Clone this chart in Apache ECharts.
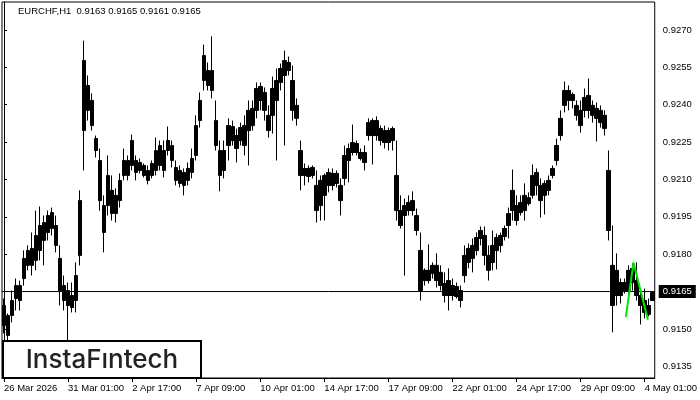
<!DOCTYPE html>
<html><head><meta charset="utf-8">
<script src="https://cdn.jsdelivr.net/npm/echarts@6/dist/echarts.min.js"></script>
<style>html,body{margin:0;padding:0;background:#fff}#c{width:700px;height:400px}</style>
</head><body><div id="c"></div>
<script>
const titleText = 'EURCHF,H1  0.9163 0.9165 0.9161 0.9165';
const tickLabels = ['26 Mar 2026','31 Mar 01:00','2 Apr 17:00','7 Apr 09:00','10 Apr 01:00','14 Apr 17:00','17 Apr 09:00','22 Apr 01:00','24 Apr 17:00','29 Apr 09:00','4 May 01:00'];
const yTicks = [0.9135,0.9150,0.9165,0.9180,0.9195,0.9210,0.9225,0.9240,0.9255,0.9270];
const lastPrice = 0.9165;

// 4-hour groups of the H1 chart: body range (bodyLow..bodyHigh) and extremes (lows..highs)
const bodyLow = [0.91514,0.91474,0.91554,0.91622,0.91614,0.91702,0.91755,0.91755,0.91775,0.91815,
0.91855,0.91887,0.91903,0.91835,0.91654,0.91614,0.91594,0.91586,0.91614,0.91795,
0.92296,0.92377,0.92316,0.92216,0.92015,0.91887,0.91995,0.91963,0.91963,0.92015,
0.92116,0.92116,0.92156,0.92128,0.92136,0.92116,0.92096,0.92116,0.92136,0.92156,
0.92136,0.92216,0.92176,0.92096,0.92084,0.92076,0.92096,0.92128,0.92196,0.92336,
0.92497,0.92477,0.92457,0.92236,0.92116,0.92136,0.92236,0.92256,0.92224,0.92256,
0.92236,0.92296,0.92316,0.92377,0.92417,0.92377,0.92296,0.92357,0.92417,0.92489,
0.92517,0.92537,0.92377,0.92345,0.92116,0.92116,0.92112,0.92116,0.91975,0.91995,
0.92036,0.92076,0.92076,0.92084,0.92015,0.92104,0.92176,0.92208,0.92208,0.92184,
0.92168,0.92276,0.92276,0.92276,0.92256,0.92248,0.92248,0.92256,0.91975,0.91915,
0.91955,0.91975,0.91975,0.91895,0.91654,0.91694,0.91694,0.91723,0.91694,0.91674,
0.91634,0.91634,0.91634,0.91630,0.91614,0.91714,0.91767,0.91783,0.91815,0.91863,
0.91795,0.91735,0.91767,0.91815,0.91835,0.91871,0.91915,0.91975,0.91935,0.91967,
0.91975,0.92003,0.92036,0.92076,0.92015,0.92036,0.92056,0.92116,0.92176,0.92276,
0.92397,0.92417,0.92417,0.92357,0.92316,0.92377,0.92377,0.92357,0.92345,0.92328,
0.92304,0.91895,0.91594,0.91634,0.91634,0.91654,0.91654,0.91686,0.91634,0.91594,
0.91566,0.91558,0.91614];
const bodyHigh = [0.91594,0.91554,0.91614,0.91674,0.91674,0.91783,0.91815,0.91823,0.91875,0.91915,
0.91927,0.91955,0.91967,0.91915,0.91783,0.91674,0.91654,0.91634,0.91714,0.92015,
0.92577,0.92477,0.92417,0.92264,0.92176,0.91995,0.92116,0.92056,0.92036,0.92096,
0.92176,0.92176,0.92256,0.92176,0.92168,0.92156,0.92136,0.92164,0.92216,0.92236,
0.92216,0.92256,0.92236,0.92148,0.92136,0.92128,0.92144,0.92184,0.92316,0.92417,
0.92597,0.92537,0.92537,0.92336,0.92216,0.92216,0.92316,0.92312,0.92276,0.92308,
0.92316,0.92377,0.92385,0.92465,0.92473,0.92449,0.92357,0.92465,0.92497,0.92545,
0.92577,0.92569,0.92497,0.92397,0.92216,0.92144,0.92144,0.92148,0.92076,0.92096,
0.92116,0.92128,0.92124,0.92124,0.92076,0.92196,0.92224,0.92248,0.92244,0.92208,
0.92208,0.92328,0.92336,0.92336,0.92304,0.92296,0.92296,0.92304,0.92116,0.91975,
0.91995,0.92007,0.92015,0.91955,0.91815,0.91735,0.91735,0.91755,0.91755,0.91727,
0.91682,0.91694,0.91674,0.91670,0.91654,0.91795,0.91823,0.91835,0.91867,0.91895,
0.91875,0.91795,0.91835,0.91867,0.91875,0.91903,0.91963,0.92056,0.91995,0.92007,
0.92036,0.92027,0.92116,0.92128,0.92076,0.92084,0.92096,0.92144,0.92236,0.92345,
0.92457,0.92457,0.92441,0.92397,0.92377,0.92429,0.92437,0.92397,0.92385,0.92377,
0.92357,0.92136,0.91755,0.91735,0.91686,0.91686,0.91735,0.91743,0.91694,0.91634,
0.91614,0.91594,0.91646];
const lows = [0.91482,0.91454,0.91526,0.91574,0.91574,0.91674,0.91735,0.91714,0.91735,0.91775,
0.91755,0.91855,0.91875,0.91807,0.91594,0.91574,0.91454,0.91566,0.91566,0.91755,
0.92136,0.92336,0.92296,0.92188,0.91975,0.91807,0.91955,0.91935,0.91927,0.91987,
0.92096,0.92096,0.92136,0.92096,0.92124,0.92108,0.92080,0.92104,0.92116,0.92136,
0.92108,0.92196,0.92148,0.92076,0.92068,0.92036,0.92076,0.92104,0.92176,0.92308,
0.92457,0.92457,0.92425,0.92216,0.92052,0.92104,0.92176,0.92236,0.92168,0.92236,
0.92196,0.92156,0.92296,0.92345,0.92377,0.92336,0.92268,0.92284,0.92176,0.92457,
0.92236,0.92517,0.92336,0.92316,0.92056,0.92076,0.92088,0.92104,0.91927,0.91935,
0.91935,0.92048,0.92056,0.92068,0.91955,0.92076,0.92088,0.92196,0.92196,0.92176,
0.92136,0.92256,0.92160,0.92256,0.92236,0.92224,0.92216,0.92216,0.91935,0.91903,
0.91714,0.91955,0.91955,0.91875,0.91614,0.91674,0.91682,0.91702,0.91666,0.91654,
0.91606,0.91574,0.91614,0.91622,0.91586,0.91686,0.91743,0.91727,0.91795,0.91835,
0.91755,0.91694,0.91735,0.91739,0.91807,0.91855,0.91863,0.91935,0.91915,0.91955,
0.91935,0.91995,0.92023,0.92036,0.91947,0.91959,0.92036,0.92104,0.92156,0.92256,
0.92369,0.92377,0.92385,0.92336,0.92288,0.92349,0.92345,0.92328,0.92252,0.92308,
0.92276,0.91855,0.91486,0.91594,0.91602,0.91642,0.91622,0.91654,0.91614,0.91518,
0.91542,0.91550,0.91614];
const highs = [0.91622,0.91562,0.91654,0.91702,0.91694,0.91815,0.91835,0.91887,0.91975,0.91991,
0.91955,0.91975,0.91987,0.91955,0.91835,0.91714,0.91686,0.91686,0.91767,0.92056,
0.92657,0.92517,0.92445,0.92276,0.92224,0.92036,0.92196,0.92116,0.92064,0.92124,
0.92224,0.92196,0.92280,0.92196,0.92184,0.92164,0.92156,0.92176,0.92268,0.92256,
0.92256,0.92312,0.92256,0.92176,0.92156,0.92144,0.92168,0.92224,0.92357,0.92449,
0.92641,0.92569,0.92674,0.92417,0.92256,0.92256,0.92345,0.92336,0.92304,0.92328,
0.92357,0.92417,0.92417,0.92489,0.92489,0.92469,0.92397,0.92513,0.92545,0.92565,
0.92617,0.92593,0.92557,0.92425,0.92256,0.92164,0.92156,0.92156,0.92136,0.92116,
0.92124,0.92144,0.92144,0.92136,0.92104,0.92236,0.92244,0.92320,0.92256,0.92224,
0.92236,0.92345,0.92345,0.92353,0.92316,0.92316,0.92308,0.92312,0.92256,0.92036,
0.92023,0.92036,0.92052,0.91983,0.91887,0.91743,0.91839,0.91767,0.91803,0.91755,
0.91727,0.91743,0.91702,0.91686,0.91674,0.91835,0.91843,0.91863,0.91887,0.91911,
0.91911,0.91835,0.91895,0.91883,0.91887,0.91915,0.91987,0.92140,0.92036,0.92036,
0.92084,0.92048,0.92160,0.92144,0.92104,0.92096,0.92116,0.92156,0.92264,0.92377,
0.92493,0.92477,0.92449,0.92417,0.92417,0.92465,0.92505,0.92417,0.92409,0.92397,
0.92377,0.92216,0.91915,0.91803,0.91702,0.91702,0.91755,0.91763,0.91767,0.91654,
0.91662,0.91622,0.91650];

// green pattern line (x in bar-group units)
const patternX = [155.3,155.7,157.2,157.6,160.8];
const patternY = [0.91548,0.91548,0.91767,0.91767,0.91537];

// categories: 4-hour steps from 26 Mar 2026 09:00, weekends skipped
const categories = [];
{
  let t = Date.UTC(2026,2,26,9);
  const mon = ['Jan','Feb','Mar','Apr','May','Jun','Jul','Aug','Sep','Oct','Nov','Dec'];
  for (let i = 0; i < highs.length; i++) {
    let d = new Date(t);
    while (d.getUTCDay() === 0 || d.getUTCDay() === 6) { t += 48*3600e3; d = new Date(t); }
    categories.push(d.getUTCDate() + ' ' + mon[d.getUTCMonth()] + ' ' + String(d.getUTCHours()).padStart(2,'0') + ':00');
    t += 4*3600e3;
  }
}

const ohlc = highs.map((h, i) => [bodyLow[i], bodyHigh[i], lows[i], highs[i]]);
const pattern = patternX.map((x, i) => [x, patternY[i]]);
const priceLine = [[-0.5, lastPrice], [highs.length - 0.5, lastPrice]];
const FONT = 'Liberation Sans, Arial, sans-serif';
const every16 = (i) => i % 16 === 0;

const chart = echarts.init(document.getElementById('c'), null, {renderer: 'canvas'});
chart.setOption({
  animation: false,
  backgroundColor: '#fff',
  grid: {left: 2, right: 44, top: 2, bottom: 22, show: true, borderColor: '#000', borderWidth: 1, backgroundColor: 'transparent'},
  xAxis: [{
    type: 'category', data: categories, boundaryGap: true,
    axisLine: {show: true, lineStyle: {color: '#000', width: 1}},
    axisTick: {show: true, interval: every16, alignWithLabel: true, length: 4, lineStyle: {color: '#000'}},
    axisLabel: {interval: every16, formatter: (v, i) => tickLabels[i / 16], align: 'left', margin: 5,
      color: '#000', fontSize: 9.5, fontFamily: FONT},
    splitLine: {show: false}
  }, {
    type: 'value', min: -0.5, max: highs.length - 0.5, show: false
  }],
  yAxis: {
    type: 'value', position: 'right', min: 0.91303, max: 0.92812, scale: true,
    axisLine: {show: true, lineStyle: {color: '#000', width: 1}},
    axisTick: {show: true, customValues: yTicks, length: 3, lineStyle: {color: '#000'}},
    axisLabel: {customValues: yTicks, formatter: v => v.toFixed(4), color: '#000', fontSize: 9.5, fontFamily: FONT, margin: 8},
    splitLine: {show: false}
  },
  series: [{
    type: 'candlestick', xAxisIndex: 0, data: ohlc, barWidth: 4,
    itemStyle: {color: '#000', color0: '#000', borderColor: '#000', borderColor0: '#000', borderWidth: 1}
  }, {
    type: 'line', xAxisIndex: 1, data: priceLine, symbol: 'none', z: 4, silent: true,
    lineStyle: {color: '#000', width: 1},
    endLabel: {show: true, formatter: () => lastPrice.toFixed(4), distance: 4,
      color: '#fff', backgroundColor: '#000', padding: [2, 4, 1, 4], fontSize: 9.5, fontFamily: FONT}
  }, {
    type: 'line', xAxisIndex: 1, data: pattern, symbol: 'none', z: 5, silent: true,
    lineStyle: {color: '#00e600', width: 2}
  }],
  graphic: [
    {type: 'text', left: 18, top: 6, z: 100, style: {text: titleText, fill: '#000', font: '9.5px ' + FONT}},
    {type: 'rect', z: 100, shape: {x: 3, y: 341, width: 198, height: 37}, style: {fill: '#fff', stroke: '#000', lineWidth: 2}},
    {type: 'text', z: 101, x: 102, y: 360, style: {text: 'InstaFıntech', fill: '#222', font: '500 26px Inter, sans-serif', textAlign: 'center', textVerticalAlign: 'middle'}}
  ]
});
</script></body></html>
